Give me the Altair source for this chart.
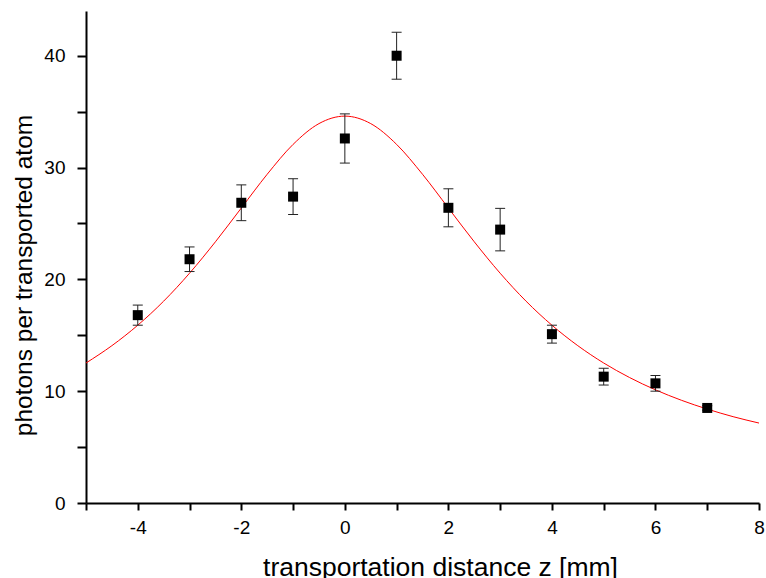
import altair as alt
import pandas as pd

# measured points
z_mm = [-4, -3, -2, -1, 0, 1, 2, 3, 4, 5, 6, 7]
photons = [16.8, 21.8, 26.85, 27.4, 32.6, 40.0, 26.4, 24.45, 15.1, 11.3, 10.7, 8.5]
err = [0.9, 1.1, 1.6, 1.6, 2.2, 2.1, 1.7, 1.9, 0.8, 0.75, 0.7, 0.2]

# fitted curve
fit_z = [-5, -4.5, -4, -3.5, -3, -2.5, -2, -1.5, -1, -0.5, 0, 0.5, 1, 1.5, 2, 2.5,
         3, 3.5, 4, 4.5, 5, 5.5, 6, 6.5, 7, 7.5, 8]
fit_y = [12.52, 14.07, 15.90, 18.05, 20.55, 23.36, 26.38, 29.40, 32.07, 33.93, 34.60,
         33.93, 32.07, 29.40, 26.38, 23.36, 20.55, 18.05, 15.90, 14.07, 12.52, 11.22,
         10.12, 9.19, 8.40, 7.72, 7.15]

x_ticks = list(range(-5, 9))
y_ticks = [0, 5, 10, 15, 20, 25, 30, 35, 40]

pts = pd.DataFrame({"z": z_mm, "p": photons, "e": err})
pts["lo"] = pts["p"] - pts["e"]
pts["hi"] = pts["p"] + pts["e"]
fit = pd.DataFrame({"z": fit_z, "p": fit_y})

FONT = "Liberation Sans"

xscale = alt.Scale(domain=[-5, 8], nice=False, zero=False)
yscale = alt.Scale(domain=[0, 44], nice=False, zero=False)

xaxis = alt.Axis(
    values=x_ticks,
    labelExpr="datum.value % 2 == 0 ? '' + datum.value : ''",
    title="transportation distance z [mm]",
    titleX=354, titleY=72.5, titleAlign="center", titleBaseline="alphabetic",
    titleFontSize=26.5,
    tickSize=7, labelPadding=8,
)
yaxis = alt.Axis(
    values=y_ticks,
    labelExpr="datum.value % 10 == 0 ? '' + datum.value : ''",
    title="photons per transported atom",
    titleX=-55, titleY=264, titleAlign="center", titleBaseline="alphabetic",
    titleFontSize=24.5,
    tickSize=9, labelPadding=12,
)

x = alt.X("z:Q", scale=xscale, axis=xaxis)
y = alt.Y("p:Q", scale=yscale, axis=yaxis)

curve = alt.Chart(fit).mark_line(color="#ff0000", strokeWidth=1, interpolate="monotone").encode(x=x, y=y)

bars = alt.Chart(pts).mark_rule(color="#222222", strokeWidth=1).encode(
    x=alt.X("z:Q", scale=xscale), y=alt.Y("lo:Q", scale=yscale), y2="hi:Q")
cap_lo = alt.Chart(pts).mark_tick(color="#222222", thickness=1, size=10, orient="horizontal", opacity=1).encode(
    x=alt.X("z:Q", scale=xscale), y=alt.Y("lo:Q", scale=yscale))
cap_hi = alt.Chart(pts).mark_tick(color="#222222", thickness=1, size=10, orient="horizontal", opacity=1).encode(
    x=alt.X("z:Q", scale=xscale), y=alt.Y("hi:Q", scale=yscale))
squares = alt.Chart(pts).mark_point(shape="square", filled=True, size=100, color="black", opacity=1).encode(x=x, y=y)

chart = alt.layer(curve, bars, cap_lo, cap_hi, squares).properties(
    width=673, height=492,
    autosize=alt.AutoSizeParams(type="none"),
    padding={"left": 86, "top": 11, "right": 7, "bottom": 75},
    background="white",
).configure_view(stroke=None).configure_axis(
    grid=False,
    domainColor="black", domainWidth=2,
    tickColor="black", tickWidth=2,
    labelColor="black", labelFont=FONT, labelFontSize=19,
    titleColor="black", titleFont=FONT, titleFontWeight="normal",
    labelFlush=False, labelOverlap=False,
)

chart.save("out.html", embed_options={"renderer": "svg", "actions": False})
